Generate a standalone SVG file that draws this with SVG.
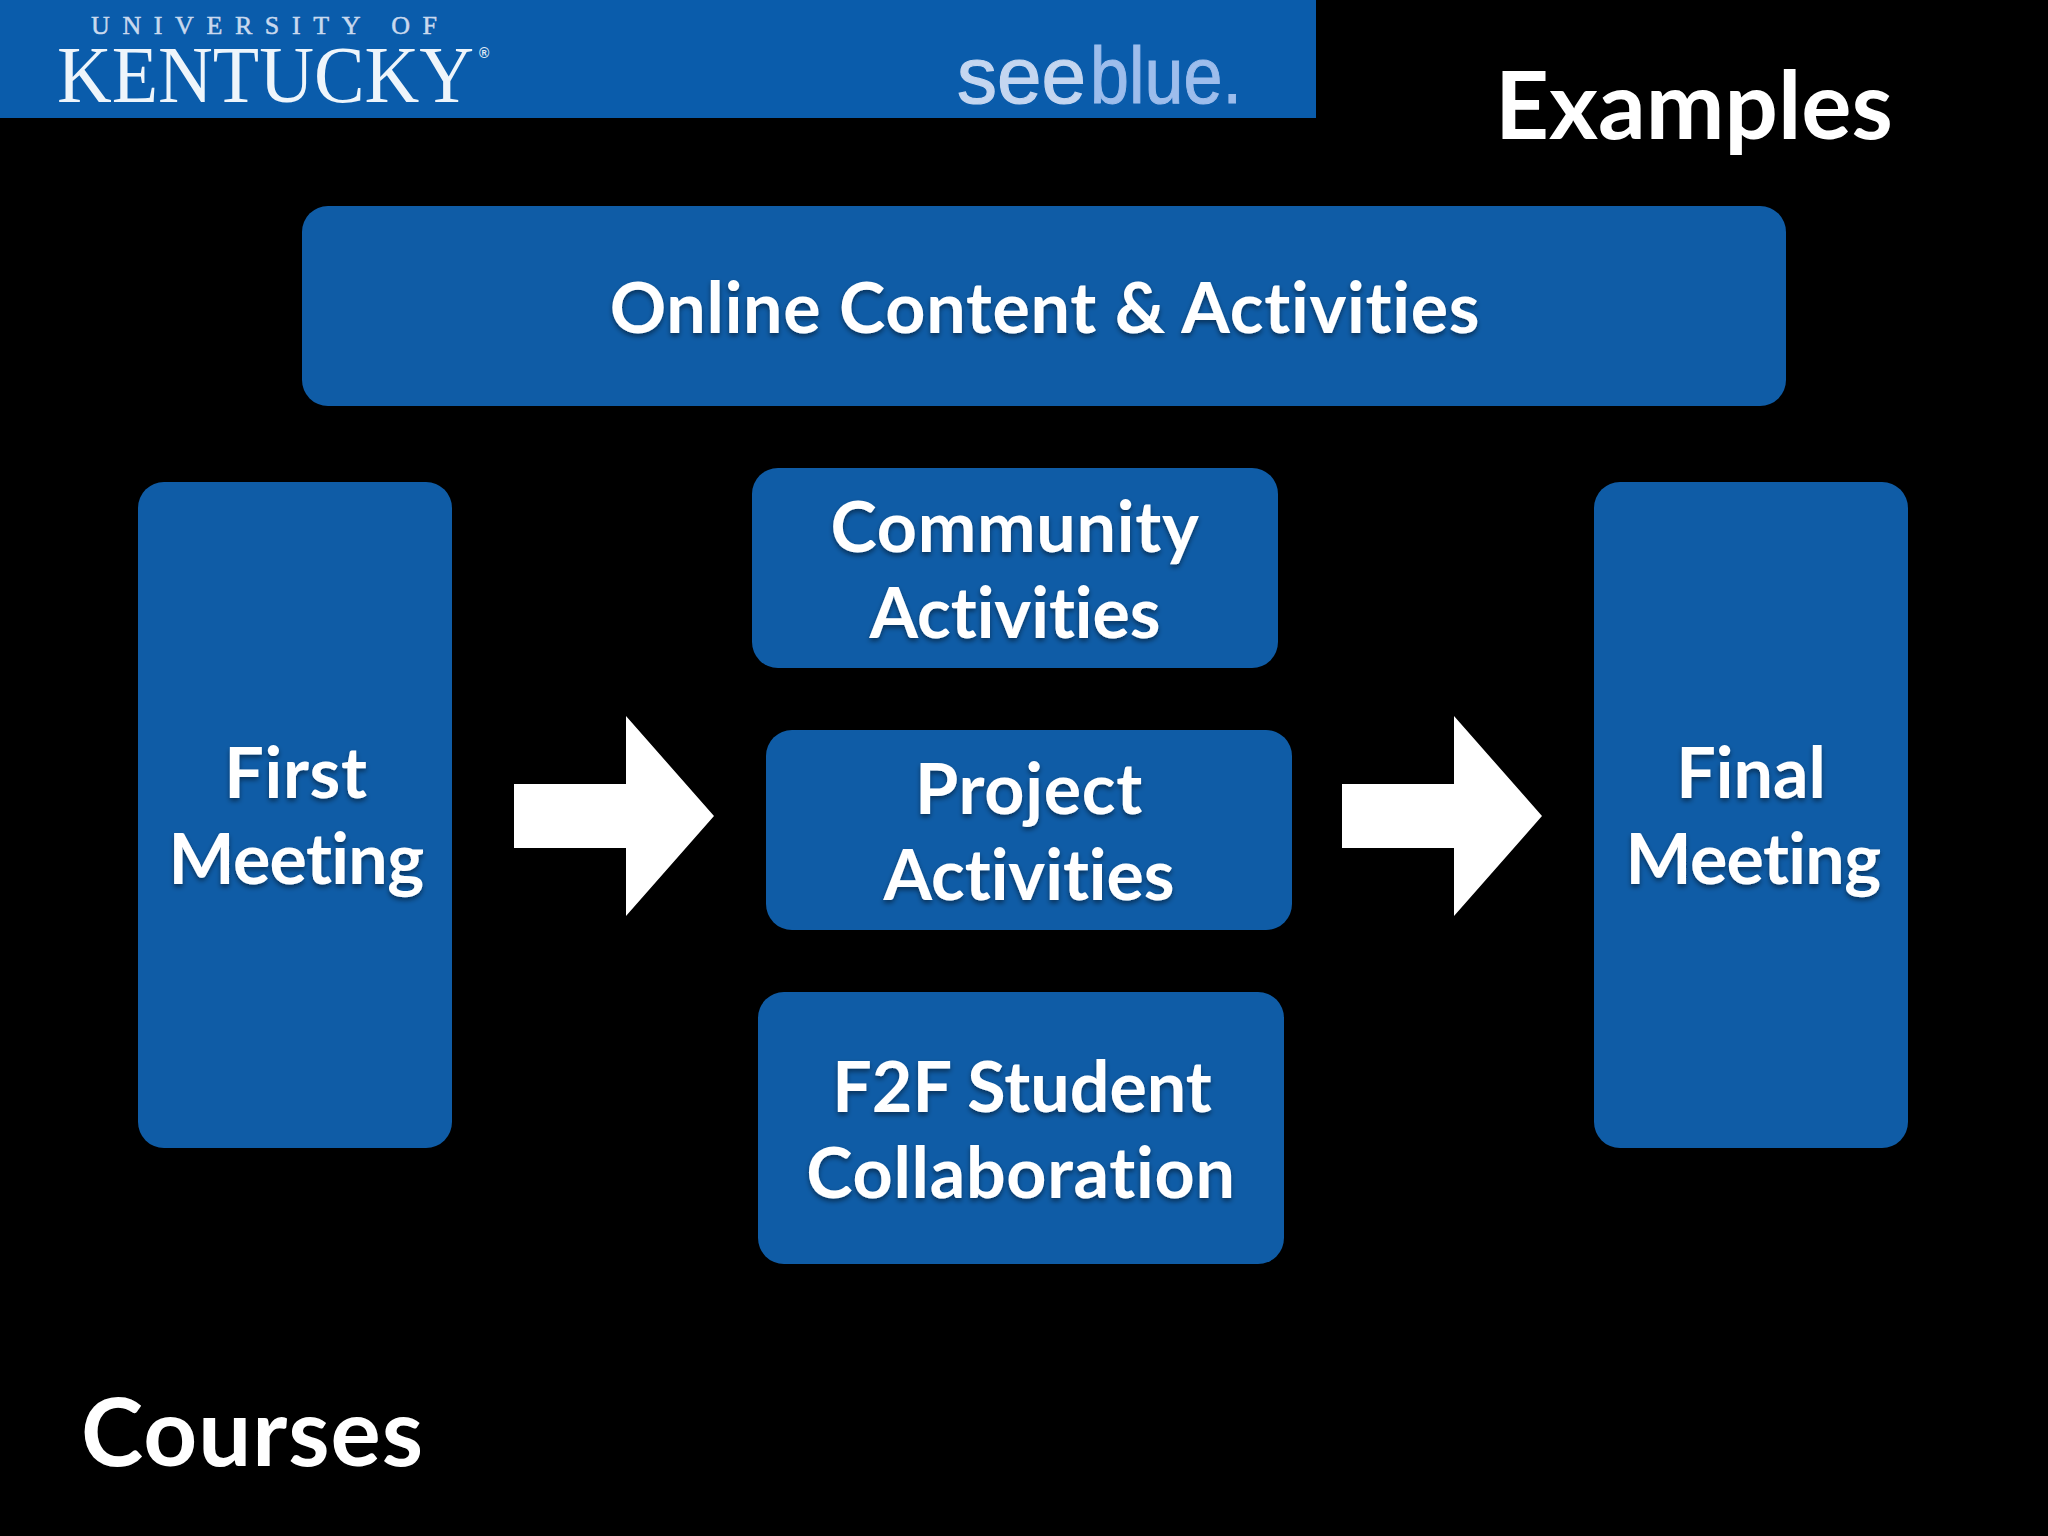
<svg xmlns="http://www.w3.org/2000/svg" width="2048" height="1536" viewBox="0 0 2048 1536">
<style>
.n{fill:#0f5ca6}
.t{font-family:Lato,"Open Sans",sans-serif;font-weight:700;font-size:70px;letter-spacing:.7px;font-variant-ligatures:none;fill:#fff;text-anchor:middle;filter:url(#s)}
.m{letter-spacing:-.7px}
.c{letter-spacing:-.1px}
.f{letter-spacing:0}
.h{font-family:Lato,"Open Sans",sans-serif;font-weight:700;font-size:94px;font-variant-ligatures:none;fill:#fff}
.a{fill:#fff}
</style>
<defs>
<filter id="s" x="-10%" y="-10%" width="120%" height="130%"><feDropShadow dx="0" dy="3" stdDeviation="2.5" flood-color="#000" flood-opacity=".45"/></filter>
</defs>
<rect width="2048" height="1536" fill="#000"/>
<g id="banner">
<rect width="1316" height="118" fill="#0a5cab"/>
<text x="91" y="34" font-family="Liberation Serif,serif" font-size="26" fill="#c9d9ee" stroke="#c9d9ee" stroke-width=".5" textLength="346">UNIVERSITY OF</text>
<text x="57" y="102" font-family="Liberation Serif,serif" font-size="80" fill="#eef5fb" textLength="417" lengthAdjust="spacingAndGlyphs">KENTUCKY</text>
<text x="479" y="58" font-family="Liberation Sans,sans-serif" font-size="14" font-weight="700" fill="#dfe9f5">®</text>
<text x="957" y="103" font-family="Liberation Sans,sans-serif" font-size="80" fill="#c4d6f0" stroke="#c4d6f0" stroke-width="1.2" textLength="129" lengthAdjust="spacingAndGlyphs">see</text>
<text x="1090" y="103" font-family="Liberation Sans,sans-serif" font-size="80" fill="#9dbdec" stroke="#9dbdec" stroke-width="1" textLength="152" lengthAdjust="spacingAndGlyphs">blue.</text>
</g>
<text id="title" class="h" x="1495" y="139">Examples</text>
<text id="footer" class="h" x="81" y="1466" style="letter-spacing:1px">Courses</text>
<g id="online"><rect class="n" x="302" y="206" width="1484" height="200" rx="26"/><text class="t" x="1045" y="333">Online Content &amp; Activities</text></g>
<g id="first"><rect class="n" x="138" y="482" width="314" height="666" rx="26"/><text class="t" x="296" y="798">First</text><text class="t m" x="296" y="884">Meeting</text></g>
<g id="community"><rect class="n" x="752" y="468" width="526" height="200" rx="26"/><text class="t" x="1015" y="552">Community</text><text class="t c" x="1015" y="638">Activities</text></g>
<g id="project"><rect class="n" x="766" y="730" width="526" height="200" rx="26"/><text class="t" x="1029" y="814">Project</text><text class="t c" x="1029" y="900">Activities</text></g>
<g id="f2f"><rect class="n" x="758" y="992" width="526" height="272" rx="26"/><text class="t f" x="1022" y="1112">F2F Student</text><text class="t" x="1021" y="1198">Collaboration</text></g>
<g id="final"><rect class="n" x="1594" y="482" width="314" height="666" rx="26"/><text class="t f" x="1751" y="798">Final</text><text class="t m" x="1753" y="884">Meeting</text></g>
<g id="connectors">
<polygon class="a" points="514,784 626,784 626,716 714,816 626,916 626,848 514,848"/>
<polygon class="a" points="1342,784 1454,784 1454,716 1542,816 1454,916 1454,848 1342,848"/>
</g>
</svg>
